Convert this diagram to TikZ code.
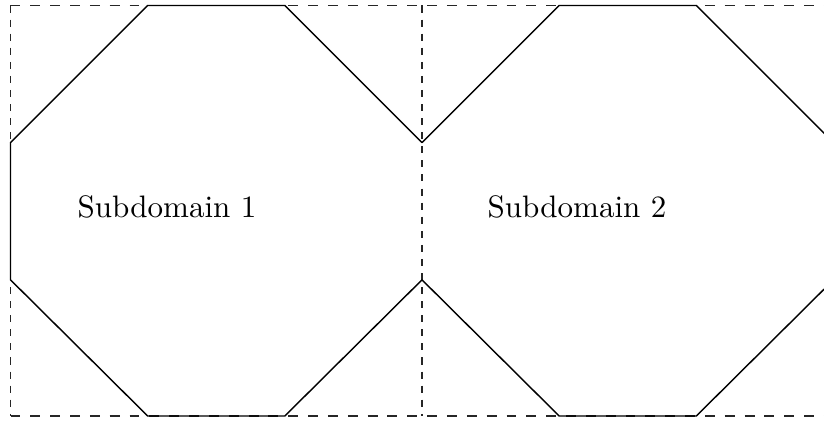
\documentclass[tikz,border=0pt]{standalone}
\begin{document}
\begin{tikzpicture}[x={0.3125pt},y={-0.3125pt},
  hdash/.style={draw=black!85,line width=0.4pt,dash pattern=on 3.1pt off 3.1pt},
  vdash/.style={draw=black!85,line width=0.4pt,dash pattern=on 2.2pt off 2.2pt},
  octa/.style={draw=black,line width=0.45pt,line join=miter},
  label/.style={anchor=base,font=\fontsize{9.7}{12}\selectfont,inner sep=0pt}]
  \useasboundingbox (0,0) rectangle (824,421);
  \clip (0,0) rectangle (824,421);
  % square side s = 411.5, octagon cut a = s/3
  \def\sq{411.5}
  \def\ct{137.17}
  % dashed subdomain boxes
  \draw[hdash] (10.5,5.5) -- (845,5.5);
  \draw[hdash] (10.5,416) -- (845,416);
  \foreach \xx in {10.5,422,833.5}
    \draw[vdash] (\xx,5.5) -- (\xx,416);
  % left octagon: open on the shared interface side
  \def\ox{10.5}
  \draw[octa] (\ox+\sq,5.5+2*\ct) -- (\ox+2*\ct,416) -- (\ox+\ct,416)
    -- (\ox,5.5+2*\ct) -- (\ox,5.5+\ct) -- (\ox+\ct,5.5) -- (\ox+2*\ct,5.5)
    -- (\ox+\sq,5.5+\ct);
  % right octagon: open on the shared interface side
  \def\ox{422}
  \draw[octa] (\ox,5.5+\ct) -- (\ox+\ct,5.5) -- (\ox+2*\ct,5.5)
    -- (\ox+\sq,5.5+\ct) -- (\ox+\sq,5.5+2*\ct) -- (\ox+2*\ct,416)
    -- (\ox+\ct,416) -- (\ox,5.5+2*\ct);
  \node[label] (sub1) at (167,218) {Subdomain 1};
  \node[label] (sub2) at (577,218) {Subdomain 2};
\end{tikzpicture}
\end{document}
